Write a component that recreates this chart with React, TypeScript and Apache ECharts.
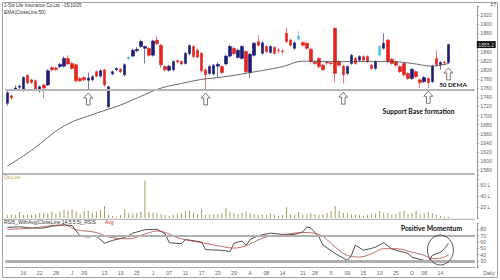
import React, { useEffect, useRef } from "react";
import * as echarts from "echarts";

// Trading days (2025) by month
const mayDays = [12, 13, 14, 15, 16, 19, 20, 21, 22, 23, 26, 27, 28, 29, 30];
const junDays = [2, 3, 4, 5, 6, 9, 10, 11, 12, 13, 16, 17, 18, 19, 20, 23, 24, 25, 26, 27, 30];
const julDays = [1, 2, 3, 4, 7, 8, 9, 10, 11, 14, 15, 16, 17, 18, 21, 22, 23, 24, 25, 28, 29, 30, 31];
const augDays = [1, 4, 5, 6, 7, 8, 11, 12, 13, 14, 18, 19, 20, 21, 22, 25, 26, 28, 29];
const sepDays = [1, 2, 3, 4, 5, 8, 9, 10, 11, 12, 15, 16, 17, 18, 19, 22, 23, 24, 25, 26, 29, 30];
const octDays = [1, 3, 6, 7, 8, 9, 10, 13, 14, 15];
const emptySlots = ["+1", "+2", "+3", "+4", "+5", "+6"];

// x-axis tick labels: [category index, text]
const xTickIdx = [4, 8, 12, 16, 19, 24, 28, 32, 36, 40, 44, 48, 52, 56, 60, 64, 68, 73, 76, 80, 84, 88, 92, 96, 100, 103, 107];
const xTickText = ["16", "22", "28", "J", "09", "13", "19", "25", "J", "07", "11", "17", "23", "29", "A", "08", "14", "21", "28", "5", "09", "15", "19", "25", "O", "08", "14"];

const openP = [1727, 1743, 1758, 1762, 1757, 1788, 1778, 1776, 1754, 1767,
  1767, 1805, 1804, 1807, 1808, 1825, 1814, 1811, 1781, 1783,
  1777, 1778, 1796, 1786, 1800, 1719, 1791, 1800, 1801, 1789,
  1824, 1830, 1842, 1851, 1847, 1847, 1832, 1865, 1854, 1807,
  1799, 1800, 1820, 1818, 1814, 1835, 1851, 1843, 1836, 1800,
  1792, 1791, 1808, 1807, 1813, 1830, 1847, 1827, 1825, 1840,
  1794, 1832, 1862, 1836, 1851, 1838, 1849, 1843, 1841, 1880,
  1865, 1847, 1867, 1860, 1858, 1845, 1817, 1825, 1810, 1816,
  1815, 1891, 1818, 1808, 1792, 1814, 1825, 1821, 1829, 1829,
  1810, 1803, 1832, 1847, 1865, 1823, 1817, 1807, 1814, 1792,
  1781, 1796, 1778, 1774, 1781, 1774, 1825, 1811, 1816, 1816];
const closeP = [1750, 1739, 1760, 1764, 1783, 1771, 1772, 1757, 1763, 1760,
  1798, 1800, 1801, 1812, 1825, 1813, 1803, 1776, 1776, 1778,
  1782, 1785, 1786, 1798, 1767, 1763, 1796, 1803, 1796, 1811,
  1828, 1843, 1845, 1862, 1851, 1832, 1863, 1857, 1811, 1800,
  1808, 1818, 1817, 1813, 1836, 1853, 1829, 1828, 1798, 1789,
  1807, 1810, 1812, 1794, 1830, 1851, 1835, 1843, 1851, 1796,
  1834, 1858, 1854, 1859, 1840, 1851, 1836, 1842, 1840, 1862,
  1854, 1859, 1874, 1854, 1847, 1818, 1814, 1807, 1800, 1815,
  1814, 1792, 1810, 1789, 1807, 1832, 1814, 1829, 1821, 1818,
  1803, 1818, 1851, 1858, 1818, 1814, 1810, 1796, 1789, 1781,
  1801, 1785, 1772, 1783, 1772, 1808, 1811, 1816, 1815, 1855.2];
const highP = [1754, 1746, 1766, 1768, 1786, 1791, 1781, 1779, 1766, 1769,
  1801, 1808, 1807, 1815, 1829, 1832, 1817, 1814, 1784, 1786,
  1794, 1788, 1799, 1801, 1802, 1765, 1799, 1806, 1804, 1814,
  1831, 1846, 1850, 1866, 1853, 1850, 1866, 1874, 1857, 1810,
  1811, 1821, 1823, 1821, 1839, 1856, 1854, 1846, 1839, 1803,
  1810, 1813, 1816, 1810, 1833, 1855, 1851, 1846, 1854, 1843,
  1837, 1861, 1876, 1862, 1854, 1854, 1852, 1848, 1845, 1893,
  1868, 1862, 1885, 1862, 1860, 1848, 1820, 1828, 1813, 1820,
  1818, 1893, 1821, 1811, 1810, 1835, 1828, 1832, 1832, 1832,
  1813, 1821, 1854, 1880, 1868, 1826, 1820, 1810, 1817, 1795,
  1804, 1799, 1781, 1786, 1784, 1811, 1843, 1819, 1820, 1857];
const lowP = [1721, 1734, 1754, 1758, 1752, 1768, 1769, 1753, 1750, 1738,
  1764, 1797, 1797, 1804, 1805, 1810, 1800, 1772, 1773, 1775,
  1756, 1775, 1783, 1783, 1762, 1717, 1788, 1797, 1793, 1786,
  1821, 1828, 1838, 1848, 1814, 1829, 1829, 1854, 1804, 1796,
  1796, 1797, 1814, 1810, 1811, 1832, 1826, 1825, 1794, 1756,
  1789, 1788, 1783, 1791, 1810, 1827, 1832, 1824, 1822, 1792,
  1782, 1829, 1851, 1833, 1837, 1835, 1833, 1836, 1834, 1858,
  1851, 1844, 1864, 1851, 1844, 1815, 1811, 1804, 1797, 1811,
  1810, 1772, 1807, 1770, 1789, 1811, 1811, 1818, 1818, 1815,
  1800, 1800, 1829, 1844, 1815, 1811, 1807, 1793, 1786, 1778,
  1778, 1782, 1760, 1771, 1760, 1771, 1808, 1800, 1810, 1813];
const cyanCandles = [30, 72, 92];

// Volume in lakh
const volumeL = [5.5, 7, 5.5, 11.5, 5.5, 7, 5.5, 6.5, 9.7, 9.7,
  8.5, 11.5, 7, 11.5, 14.5, 13, 16, 11.5, 7, 13,
  13, 9.7, 11.5, 14.5, 22, 5.5, 3.6, 2.4, 5, 16,
  8.5, 8.5, 8.5, 11.5, 68, 11.5, 9.7, 8.5, 7, 5.5,
  3.6, 5.5, 7, 8.5, 13, 13, 9.7, 7, 16, 5.5,
  5.5, 7, 7, 8.5, 18, 11.5, 8.5, 7, 9.7, 11.5,
  8.5, 7, 5.5, 7, 5.5, 8.5, 5.5, 4, 5.5, 20,
  7, 5.5, 11.5, 5.5, 7, 8.5, 7, 5.5, 7, 8.5,
  13, 22, 13, 9.7, 8.5, 7, 7, 5.5, 4, 5.5,
  7, 8.5, 13, 9.7, 8.5, 5.5, 7, 11.5, 13, 7,
  8.5, 13, 7, 8.5, 11.5, 8.5, 5.5, 4, 2.4, 2];

// EMA(50) read at [index, value]
const emaPts = [[0, 1589], [6, 1624], [14, 1677], [22, 1705], [28, 1723], [33, 1742], [38, 1760], [43, 1770], [48, 1779], [53, 1784], [60, 1794], [68, 1807], [73, 1819], [81, 1818], [95, 1818], [100, 1814], [105, 1808], [109, 1814]];

// RSI and its average, read at [index, value]
const rsiPts = [[0, 83], [3, 84], [6, 82], [9, 82], [11, 85], [14, 87], [16, 86], [18, 69], [20, 68], [22, 69.5], [24, 58], [26, 62.6], [29, 67], [31, 74], [34, 79.5], [37, 80], [39, 73], [40, 59], [43, 57.4], [44, 64], [48, 60], [49, 48], [53, 47], [55, 45], [56, 58], [58, 61.6], [59, 55], [60, 64], [62, 70], [65, 74], [68, 72], [71, 72], [73, 76], [74, 84], [75, 82], [77, 68], [78, 55], [81, 42], [84, 31], [85, 39], [86, 55], [88, 47], [90, 50], [91, 52], [93, 59], [95, 49], [99, 42], [100, 36], [103, 31], [104, 28.5], [105, 39], [107, 44], [108, 49.5], [109, 58]];
const rsiAvgPts = [[0, 80], [6, 82], [14, 87], [17, 79.5], [22, 75], [25, 68], [30, 65], [34, 72.6], [37, 77.3], [43, 65], [48, 59], [53, 53], [56, 50.5], [59, 54], [60, 57], [64, 68], [68, 71], [73, 75], [77, 72], [81, 52], [84, 39], [87, 36.4], [90, 41.6], [93, 49.5], [96, 49.5], [100, 44], [103, 39], [105, 33.7], [106, 33.7], [108, 36.4], [109, 40]];

const supportLevel = 1757;
const arrowPts = [[20, 1736], [49, 1736], [83, 1738], [104, 1740], [109, 1791]];
const rsiLevels = [70, 30];
const circleAt = [107, 47.4];

const FONT = "Liberation Sans";
const BOLD = "Lato";

export default function App() {
  const ref = useRef<HTMLDivElement>(null);
  useEffect(() => {
    if (!ref.current) return;
    const chart = echarts.init(ref.current, undefined, { renderer: "svg" });
    const months: [string, number[]][] = [["05", mayDays], ["06", junDays], ["07", julDays], ["08", augDays], ["09", sepDays], ["10", octDays]];
    const dates = months.flatMap(([m, ds]) => ds.map((d) => `2025-${m}-${String(d).padStart(2, "0")}`));
    const categories = [...dates, ...emptySlots];
    const tickMap = new Map<number, string>();
    xTickIdx.forEach((i, k) => tickMap.set(i, xTickText[k]));
    const cyan = "#52c8e0";
    const candleData = openP.map((o, i) => {
      const v = [o, closeP[i], lowP[i], highP[i]];
      return cyanCandles.includes(i)
        ? { value: v, itemStyle: { color: cyan, color0: cyan, borderColor: cyan, borderColor0: cyan } }
        : v;
    });
    const lastClose = closeP[closeP.length - 1];
    const gridL = 5.3, gridW = 469.5;
    const axisLabelBase = { fontSize: 5.2, color: "#666", fontFamily: FONT, margin: 3.5 };
    const yAxisBase = {
      type: "value" as const,
      position: "right" as const,
      offset: 2,
      axisLine: { show: true, lineStyle: { color: "#9a9a9a" } },
      axisTick: { show: true, length: 2, lineStyle: { color: "#9a9a9a" } },
      splitLine: { show: false },
    };
    const hiddenX = (gi: number) => ({
      type: "category" as const, gridIndex: gi, data: categories, show: false,
    });
    const option: any = {
      animation: false,
      backgroundColor: "#ffffff",
      grid: [
        { left: gridL, width: gridW, top: 5.86, height: 173.6 },
        { left: gridL, width: gridW, top: 175.1, height: 42.9 },
        { left: gridL, width: gridW, top: 223, height: 44.4 },
      ],
      xAxis: [
        hiddenX(0),
        hiddenX(1),
        {
          type: "category", gridIndex: 2, data: categories,
          axisLine: { show: true, lineStyle: { color: "#a8a8a8" } },
          axisTick: { show: false },
          axisLabel: {
            ...axisLabelBase, margin: 3,
            interval: (i: number) => tickMap.has(i),
            formatter: (_v: string, i: number) => tickMap.get(i) ?? "",
          },
        },
      ],
      yAxis: [
        {
          ...yAxisBase, gridIndex: 0, min: 1560, max: 1940, interval: 20,
          axisLabel: { ...axisLabelBase, formatter: (v: number) => (v === 1560 || v === 1940 || v === 1860 ? "" : String(v)) },
        },
        {
          ...yAxisBase, gridIndex: 1, min: 0, max: 78, interval: 20,
          axisLabel: { ...axisLabelBase, formatter: (v: number) => (v === 0 || v % 20 !== 0 ? "" : `${v} L`) },
        },
        {
          ...yAxisBase, gridIndex: 2, min: 20, max: 90, interval: 10,
          axisLabel: { ...axisLabelBase, formatter: (v: number) => (v === 20 || v === 90 ? "" : String(v)) },
        },
      ],
      series: [
        {
          type: "candlestick", xAxisIndex: 0, yAxisIndex: 0, data: candleData, barWidth: 3,
          itemStyle: { color: "#1c1c78", color0: "#e2231e", borderColor: "#1c1c78", borderColor0: "#e2231e", borderWidth: 0.6 },
          markLine: {
            silent: true, symbol: ["none", "none"],
            data: [
              { yAxis: supportLevel, lineStyle: { color: "#b4b4b4", width: 2, type: "solid" }, label: { show: false } },
              {
                yAxis: lastClose, lineStyle: { color: "rgba(0,0,0,0)", width: 1 },
                label: {
                  show: true, position: "end", distance: 2, formatter: String(lastClose),
                  backgroundColor: "#111", color: "#d8d8d8", fontSize: 5.2, fontFamily: FONT, padding: [1, 1.5],
                },
              },
            ],
          },
          markPoint: {
            silent: true,
            symbol: "path://M5,0L10,5L7,5L7,12L3,12L3,5L0,5Z",
            symbolSize: [9, 12],
            itemStyle: { color: "#ffffff", borderColor: "#555", borderWidth: 0.8 },
            label: { show: false },
            data: arrowPts.map((c) => ({ coord: c })),
          },
        },
        {
          type: "line", xAxisIndex: 0, yAxisIndex: 0, data: emaPts, showSymbol: false, smooth: 0.4,
          lineStyle: { color: "#444", width: 0.8 }, silent: true,
        },
        {
          type: "bar", xAxisIndex: 1, yAxisIndex: 1, data: volumeL, barWidth: 1,
          itemStyle: { color: "#a39d5c" }, silent: true,
        },
        {
          type: "line", xAxisIndex: 2, yAxisIndex: 2, data: rsiPts, showSymbol: false,
          lineStyle: { color: "#222", width: 0.8 }, silent: true,
          markLine: {
            silent: true, symbol: ["none", "none"], label: { show: false },
            lineStyle: { color: "#b0b0b0", width: 2, type: "solid" },
            data: [...rsiLevels.map((v) => ({ yAxis: v })), { yAxis: 28, lineStyle: { color: "#b0b0b0", width: 1.2, type: "solid" } }],
          },
          markPoint: {
            silent: true, symbol: "circle", symbolSize: [26, 30],
            itemStyle: { color: "rgba(0,0,0,0)", borderColor: "#333", borderWidth: 0.8 },
            label: { show: false },
            data: [{ coord: circleAt }],
          },
        },
        {
          type: "line", xAxisIndex: 2, yAxisIndex: 2, data: rsiAvgPts, showSymbol: false, smooth: 0.4,
          lineStyle: { color: "#b04848", width: 0.8 }, silent: true,
        },
      ],
      graphic: [
        { type: "rect", silent: true, shape: { x: 2.5, y: 2.5, width: 495, height: 275 }, style: { fill: "none", stroke: "#a3a3a3", lineWidth: 1 } },
        { type: "line", silent: true, shape: { x1: 3, y1: 174, x2: 474.8, y2: 174 }, style: { stroke: "#b8b8b8", lineWidth: 2 } },
        { type: "line", silent: true, shape: { x1: 3, y1: 219.3, x2: 474.8, y2: 219.3 }, style: { stroke: "#a8a8a8", lineWidth: 1 } },
        { type: "text", x: 4, y: 2.6, style: { text: "1-Sbi Life Insurance Co Ltd - 15/10/25", fontSize: 4.6, fontFamily: FONT, fill: "#333", verticalAlign: "top" } },
        { type: "text", x: 4, y: 10.2, style: { text: "EMA(CloseLine:50)", fontSize: 4.8, fontFamily: FONT, fill: "#333", verticalAlign: "top" } },
        { type: "text", x: 496, y: 2.8, style: { text: "F7", fontSize: 4.8, fontFamily: FONT, fill: "#555", align: "right", verticalAlign: "top" } },
        { type: "text", x: 4, y: 175.2, style: { text: "QtyLine", fontSize: 4.8, fontFamily: FONT, fill: "#b3aa4a", verticalAlign: "top" } },
        { type: "text", x: 4, y: 219.8, style: { text: "RSI5_WithAvg(CloseLine:14:5:5:5)_RSIS", fontSize: 5, fontFamily: FONT, fill: "#333", verticalAlign: "top" } },
        { type: "text", x: 105, y: 219.8, style: { text: "Avg", fontSize: 5, fontFamily: FONT, fill: "#c83030", verticalAlign: "top" } },
        { type: "text", x: 489, y: 272.8, style: { text: "Daily", fontSize: 5.2, fontFamily: FONT, fill: "#666", align: "center", verticalAlign: "middle" } },
        { type: "text", x: 418.5, y: 110.7, style: { text: "Support Base formation", fontSize: 6.8, fontFamily: BOLD, fontWeight: "bold", fill: "#111", align: "center", verticalAlign: "middle" } },
        { type: "text", x: 453, y: 84, style: { text: "50 DEMA", fontSize: 6.3, fontFamily: BOLD, fontWeight: "bold", fill: "#111", align: "center", verticalAlign: "middle" } },
        { type: "text", x: 431.5, y: 228, style: { text: "Positive Momentum", fontSize: 6.8, fontFamily: BOLD, fontWeight: "bold", fill: "#111", align: "center", verticalAlign: "middle" } },
      ],
    };
    chart.setOption(option);
    return () => chart.dispose();
  }, []);
  return (
    <div
      ref={ref}
      style={{ position: "fixed", left: 0, top: 0, width: 500, height: 280, background: "#fff" }}
    />
  );
}
